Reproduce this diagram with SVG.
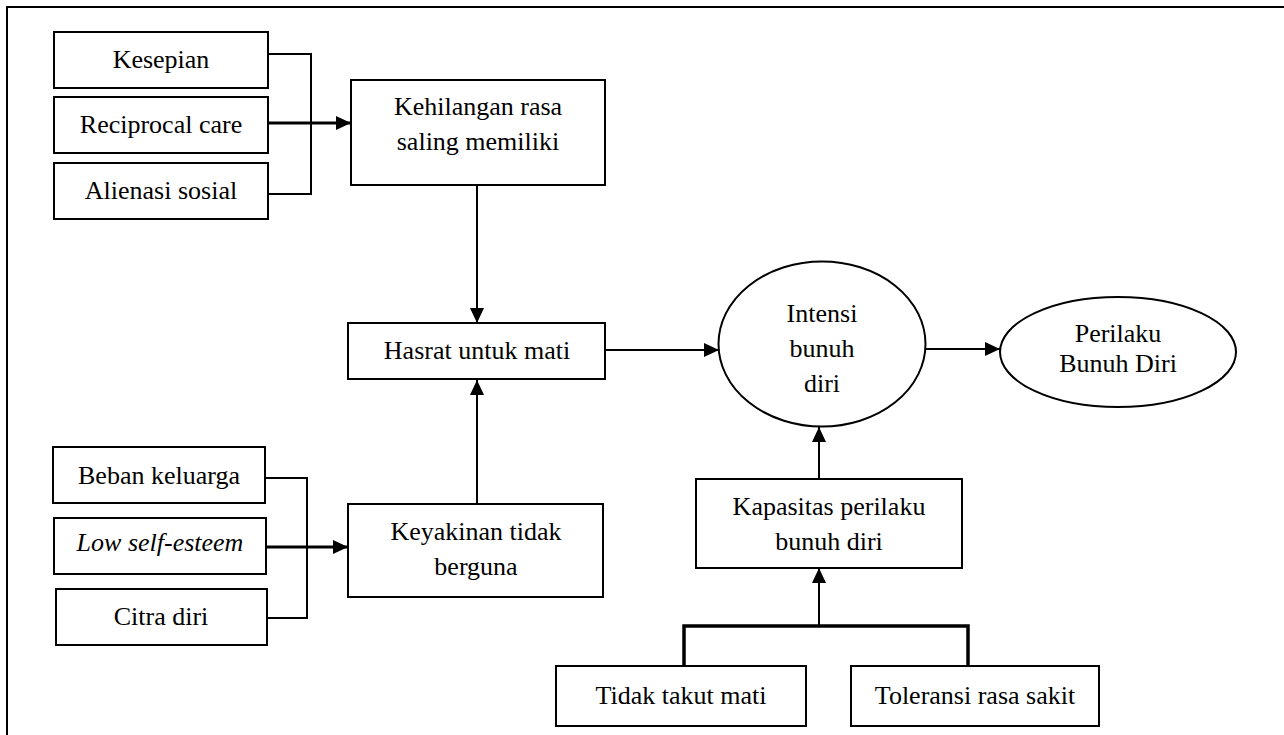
<svg xmlns="http://www.w3.org/2000/svg" width="1284" height="735" viewBox="0 0 1284 735">
<style>
  .box { fill: #ffffff; stroke: #000000; stroke-width: 2; }
  .ell { fill: #ffffff; stroke: #000000; stroke-width: 2; }
  .lbl { font-family: 'Liberation Serif', serif; font-size: 26px; fill: #000000; text-anchor: middle; }
  .it { font-style: italic; }
  .con { fill: none; stroke: #000000; stroke-width: 2; }
  .thick { stroke-width: 3; }
  .bar { stroke-width: 3.5; }
</style>
<defs>
  <marker id="ah" markerUnits="userSpaceOnUse" markerWidth="16" markerHeight="14" refX="15" refY="7" orient="auto">
    <path d="M0,0 L15,7 L0,14 z" fill="#000000"/>
  </marker>
</defs>
<rect x="0" y="0" width="1284" height="735" fill="#ffffff"/>
<rect id="frame" x="7" y="7" width="1300" height="760" fill="none" stroke="#000000" stroke-width="2"/>

<g id="connectors">
  <path class="con" d="M268,54 H311 V194 H268"/>
  <path class="con thick" d="M268,123 H351" marker-end="url(#ah)"/>
  <path class="con" d="M477,185 V323" marker-end="url(#ah)"/>
  <path class="con" d="M477,504 V380" marker-end="url(#ah)"/>
  <path class="con" d="M265,478 H307 V618 H267"/>
  <path class="con thick" d="M266,547 H348" marker-end="url(#ah)"/>
  <path class="con" d="M605,350 H719" marker-end="url(#ah)"/>
  <path class="con" d="M926,349 H1000" marker-end="url(#ah)"/>
  <path class="con" d="M819,479 V427" marker-end="url(#ah)"/>
  <path class="con bar" d="M684,666 V626 H968 V666"/>
  <path class="con" d="M819,626 V568" marker-end="url(#ah)"/>
</g>

<g id="kesepian">
  <rect class="box" x="54" y="32" width="214" height="56"/>
  <text class="lbl" x="161" y="68">Kesepian</text>
</g>
<g id="reciprocal">
  <rect class="box" x="54" y="97" width="214" height="56"/>
  <text class="lbl" x="161" y="133">Reciprocal care</text>
</g>
<g id="alienasi">
  <rect class="box" x="54" y="163" width="214" height="56"/>
  <text class="lbl" x="161" y="199">Alienasi sosial</text>
</g>
<g id="kehilangan">
  <rect class="box" x="351" y="80" width="254" height="105"/>
  <text class="lbl" x="478" y="115">Kehilangan rasa</text>
  <text class="lbl" x="478" y="150">saling memiliki</text>
</g>
<g id="hasrat">
  <rect class="box" x="348" y="323" width="257" height="56"/>
  <text class="lbl" x="477" y="359">Hasrat untuk mati</text>
</g>
<g id="keyakinan">
  <rect class="box" x="348" y="504" width="255" height="93"/>
  <text class="lbl" x="476" y="540">Keyakinan tidak</text>
  <text class="lbl" x="476" y="575">berguna</text>
</g>
<g id="beban">
  <rect class="box" x="53" y="447" width="212" height="56"/>
  <text class="lbl" x="159" y="484">Beban keluarga</text>
</g>
<g id="lowselfesteem">
  <rect class="box" x="54" y="518" width="212" height="56"/>
  <text class="lbl it" x="160" y="551">Low self-esteem</text>
</g>
<g id="citra">
  <rect class="box" x="56" y="589" width="211" height="56"/>
  <text class="lbl" x="161" y="625">Citra diri</text>
</g>
<g id="intensi">
  <ellipse class="ell" cx="822" cy="344" rx="103.5" ry="82.5"/>
  <text class="lbl" x="822" y="322">Intensi</text>
  <text class="lbl" x="822" y="357">bunuh</text>
  <text class="lbl" x="822" y="392">diri</text>
</g>
<g id="perilaku">
  <ellipse class="ell" cx="1118" cy="352" rx="118" ry="55"/>
  <text class="lbl" x="1118" y="342">Perilaku</text>
  <text class="lbl" x="1118" y="372">Bunuh Diri</text>
</g>
<g id="kapasitas">
  <rect class="box" x="696" y="479" width="266" height="89"/>
  <text class="lbl" x="829" y="515">Kapasitas perilaku</text>
  <text class="lbl" x="829" y="550">bunuh diri</text>
</g>
<g id="tidak">
  <rect class="box" x="556" y="666" width="250" height="60"/>
  <text class="lbl" x="681" y="704">Tidak takut mati</text>
</g>
<g id="toleransi">
  <rect class="box" x="851" y="666" width="248" height="60"/>
  <text class="lbl" x="975" y="704">Toleransi rasa sakit</text>
</g>
</svg>
